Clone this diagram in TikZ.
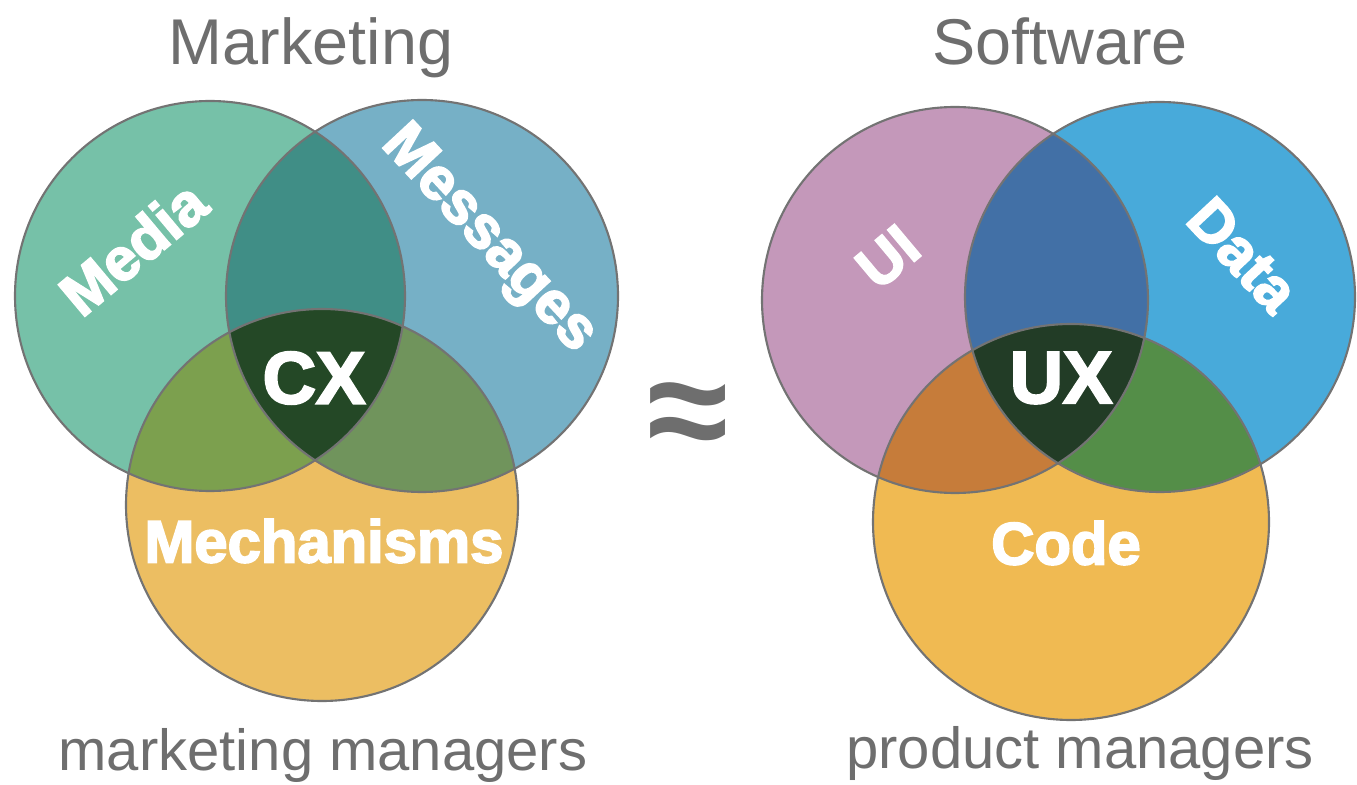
\documentclass[tikz,border=0pt]{standalone}
\usepackage{fontspec}
\setmainfont{Liberation Sans}
\newfontfamily\labelfont[FakeBold=3]{Liberation Sans Bold}

% set colours, left diagram
\definecolor{mediaC}{RGB}{118,193,168}
\definecolor{messC}{RGB}{118,176,198}
\definecolor{mechC}{RGB}{236,190,98}
\definecolor{mediamessC}{RGB}{64,142,134}
\definecolor{mediamechC}{RGB}{124,160,78}
\definecolor{messmechC}{RGB}{112,148,92}
\definecolor{cxC}{RGB}{36,72,38}
% set colours, right diagram
\definecolor{uiC}{RGB}{196,152,186}
\definecolor{dataC}{RGB}{72,170,218}
\definecolor{codeC}{RGB}{240,186,82}
\definecolor{uidataC}{RGB}{66,112,166}
\definecolor{uicodeC}{RGB}{198,124,58}
\definecolor{datacodeC}{RGB}{84,142,72}
\definecolor{uxC}{RGB}{34,60,38}
\definecolor{textgray}{RGB}{110,110,110}

\begin{document}
\begin{tikzpicture}[x=0.01cm, y=-0.01cm,
  ring/.style={draw=black!55, line width=0.6pt},
  setname/.style={text=white, inner sep=0pt, font=\labelfont\fontsize{17}{17}\selectfont},
  corename/.style={setname, font=\labelfont\fontsize{21}{21}\selectfont},
  heading/.style={text=textgray, anchor=base, inner sep=0pt, font=\fontsize{18.4}{18.4}\selectfont},
  role/.style={text=textgray, anchor=base, inner sep=0pt, font=\fontsize{16.5}{16.5}\selectfont}]
\useasboundingbox (0,0) rectangle (1357,785);

% centres of the circles
\coordinate (media) at (210,296);
\coordinate (mess) at (422,296);
\coordinate (mech) at (322,505);
\coordinate (ui) at (955,300);
\coordinate (data) at (1160,297);
\coordinate (code) at (1071,522);

%% marketing
\fill[mediaC] (media) circle (195);
\fill[messC] (mess) circle (196);
\fill[mechC] (mech) circle (196);
\begin{scope}
  \clip (media) circle (195);
  \fill[mediamessC] (mess) circle (196);
  \fill[mediamechC] (mech) circle (196);
\end{scope}
\begin{scope}
  \clip (mess) circle (196);
  \fill[messmechC] (mech) circle (196);
\end{scope}
\begin{scope}
  \clip (media) circle (195);
  \clip (mess) circle (196);
  \fill[cxC] (mech) circle (196);
\end{scope}
\draw[ring] (media) circle (195);
\draw[ring] (mess) circle (196);
\draw[ring] (mech) circle (196);

%% software
\fill[uiC] (ui) circle (193);
\fill[dataC] (data) circle (195);
\fill[codeC] (code) circle (198);
\begin{scope}
  \clip (ui) circle (193);
  \fill[uidataC] (data) circle (195);
  \fill[uicodeC] (code) circle (198);
\end{scope}
\begin{scope}
  \clip (data) circle (195);
  \fill[datacodeC] (code) circle (198);
\end{scope}
\begin{scope}
  \clip (ui) circle (193);
  \clip (data) circle (195);
  \fill[uxC] (code) circle (198);
\end{scope}
\draw[ring] (ui) circle (193);
\draw[ring] (data) circle (195);
\draw[ring] (code) circle (198);

% set names
\node[setname, rotate=40] (medialabel) at (133,248) {Media};
\node[setname, rotate=-47] (messlabel) at (488,240) {Messages};
\node[setname] (mechlabel) at (324,541) {Mechanisms};
\node[corename] (cx) at (314,378) {CX};
\node[setname, rotate=40] (uilabel) at (888,257) {UI};
\node[setname, rotate=-47] (datalabel) at (1243,255) {Data};
\node[setname] (codelabel) at (1066,543) {Code};
\node[corename] (ux) at (1061,378) {UX};

% titles and roles
\node[heading] (marketing) at (311,65) {Marketing};
\node[heading] (software) at (1060,65) {Software};
\node[role] (mktroles) at (323,770) {marketing managers};
\node[role] (prodroles) at (1080,768) {product managers};
\node[text=textgray, font=\bfseries\fontsize{42}{42}\selectfont] (approx) at (688,422) {≈};
\end{tikzpicture}
\end{document}
